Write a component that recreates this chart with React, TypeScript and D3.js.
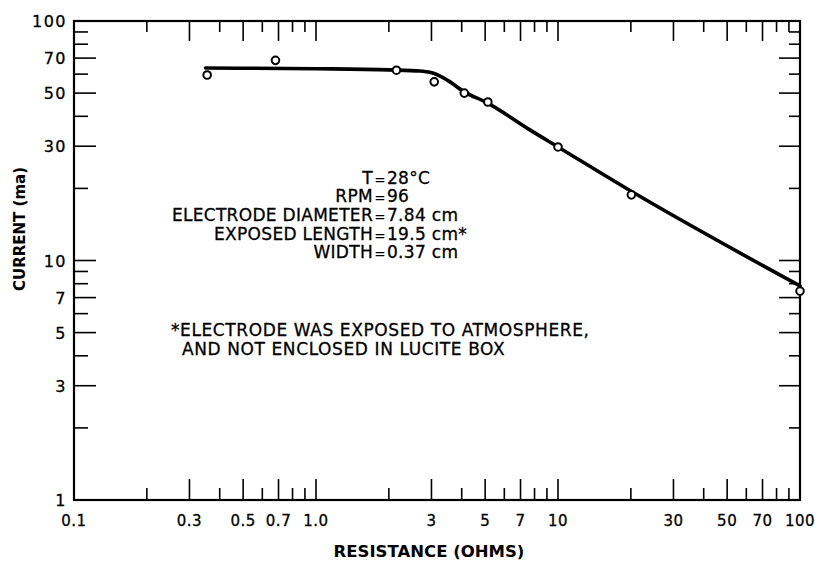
import React, { useEffect, useRef } from 'react';
import * as d3 from 'd3';

// measured points (resistance in ohms, current in ma)
const resistance = [0.355, 0.68, 2.15, 3.08, 4.1, 5.13, 10, 20.1, 100];
const current = [59.5, 68.5, 62.3, 55.7, 50, 45.9, 29.8, 18.8, 7.45];

// hand drawn curve through the points
const fitR = [0.35, 1.0, 2.0, 2.7, 3.1, 3.5, 4.1, 5.1, 7.65, 10, 20, 100];
const fitI = [63.6, 63.2, 62.5, 61.8, 60.2, 56.5, 50.6, 45.5, 35.1, 29.8, 19.5, 7.83];

const xMajor = [0.3, 0.5, 0.7, 1, 3, 5, 7, 10, 30, 50, 70];
const xMinor = [0.2, 0.4, 0.6, 0.8, 0.9, 2, 4, 6, 8, 9, 20, 40, 60, 80, 90];
const xLabels = ['0.1', '0.3', '0.5', '0.7', '1.0', '3', '5', '7', '10', '30', '50', '70', '100'];
const xLabelVals = [0.1, 0.3, 0.5, 0.7, 1, 3, 5, 7, 10, 30, 50, 70, 100];

const yMajor = [3, 5, 7, 10, 30, 50, 70];
const yMinor = [2, 4, 6, 8, 9, 20, 40, 60, 80, 90];
const yLabels = ['1', '3', '5', '7', '10', '30', '50', '70', '100'];
const yLabelVals = [1, 3, 5, 7, 10, 30, 50, 70, 100];

const conditionKeys = ['T', 'RPM', 'ELECTRODE DIAMETER', 'EXPOSED LENGTH', 'WIDTH'];
const conditionVals = ['28°C', '96', '7.84 cm', '19.5 cm*', '0.37 cm'];
const footnote = ['*ELECTRODE WAS EXPOSED TO ATMOSPHERE,', 'AND NOT ENCLOSED IN LUCITE BOX'];

const FONT = '"DejaVu Sans", Verdana, sans-serif';

export default function App() {
  const ref = useRef<SVGSVGElement>(null);

  useEffect(() => {
    const svg = d3.select(ref.current);
    svg.selectAll('*').remove();

    const left = 74, right = 800, top = 21, bottom = 500;
    const x = d3.scaleLog().domain([0.1, 100]).range([left, right]);
    const y = d3.scaleLog().domain([1, 100]).range([bottom, top]);

    svg.append('rect').attr('width', 823).attr('height', 564).attr('fill', '#fff');

    // frame
    svg.append('rect')
      .attr('x', left).attr('y', top)
      .attr('width', right - left).attr('height', bottom - top)
      .attr('fill', 'none').attr('stroke', '#000').attr('stroke-width', 2.2);

    const ticks = svg.append('g').attr('stroke', '#000').attr('stroke-width', 1.6);

    // bottom and top ticks
    const xTick = (vals: number[], lb: number, lt: number) => {
      vals.forEach(v => {
        ticks.append('line').attr('x1', x(v)).attr('x2', x(v)).attr('y1', bottom).attr('y2', bottom - lb);
        ticks.append('line').attr('x1', x(v)).attr('x2', x(v)).attr('y1', top).attr('y2', top + lt);
      });
    };
    xTick(xMajor, 21, 20);
    xTick(xMinor, 12, 11);

    // left and right ticks
    const yTick = (vals: number[], ll: number, lr: number) => {
      vals.forEach(v => {
        ticks.append('line').attr('x1', left).attr('x2', left + ll).attr('y1', y(v)).attr('y2', y(v));
        ticks.append('line').attr('x1', right).attr('x2', right - lr).attr('y1', y(v)).attr('y2', y(v));
      });
    };
    yTick(yMajor, 22, 21);
    yTick(yMinor, 14, 11);

    // tick labels
    svg.append('g').selectAll('text')
      .data(xLabels)
      .enter()
      .append('text')
      .attr('x', (d, i) => x(xLabelVals[i]))
      .attr('y', 526)
      .attr('text-anchor', 'middle')
      .attr('font-family', FONT)
      .attr('font-size', 15)
      .attr('letter-spacing', 0.5)
      .attr('stroke', '#000').attr('stroke-width', 0.3)
      .text(d => d);

    svg.append('g').selectAll('text')
      .data(yLabels)
      .enter()
      .append('text')
      .attr('x', 67)
      .attr('y', (d, i) => y(yLabelVals[i]) + 6)
      .attr('text-anchor', 'end')
      .attr('font-family', FONT)
      .attr('font-size', 16)
      .attr('letter-spacing', 1.5)
      .attr('stroke', '#000').attr('stroke-width', 0.3)
      .text(d => d);

    // axis titles
    svg.append('text')
      .attr('x', 429).attr('y', 557)
      .attr('text-anchor', 'middle')
      .attr('font-family', FONT).attr('font-size', 16.5).attr('font-weight', 'bold')
      .text('RESISTANCE (OHMS)');

    svg.append('text')
      .attr('transform', 'translate(25,229) rotate(-90)')
      .attr('text-anchor', 'middle')
      .attr('font-family', FONT).attr('font-size', 15).attr('font-weight', 'bold')
      .text('CURRENT (ma)');

    // conditions block, aligned on "="
    const cond = svg.append('g').attr('font-family', FONT).attr('font-size', 17)
      .attr('letter-spacing', 0.3)
      .attr('stroke', '#000').attr('stroke-width', 0.3);
    conditionKeys.forEach((k, i) => {
      const yy = 183.5 + i * 18.7;
      cond.append('text').attr('x', 373).attr('y', yy).attr('text-anchor', 'end').text(k);
      cond.append('text').attr('x', 380).attr('y', yy).attr('text-anchor', 'middle')
        .attr('font-size', 13).text('=');
      cond.append('text').attr('x', 387).attr('y', yy).text(conditionVals[i]);
    });

    const foot = svg.append('g').attr('font-family', FONT).attr('font-size', 17)
      .attr('letter-spacing', 0.6)
      .attr('stroke', '#000').attr('stroke-width', 0.3);
    foot.append('text').attr('x', 171).attr('y', 336).text(footnote[0]);
    foot.append('text').attr('x', 182).attr('y', 355).text(footnote[1]);

    // fitted curve
    const line = d3.line<number>()
      .x((d, i) => x(fitR[i]))
      .y(d => y(d))
      .curve(d3.curveMonotoneX);

    svg.append('path')
      .datum(fitI)
      .attr('d', line)
      .attr('fill', 'none')
      .attr('stroke', '#000')
      .attr('stroke-width', 3.6)
      .attr('stroke-linecap', 'round');

    // measured points
    svg.append('g').selectAll('circle')
      .data(current)
      .enter()
      .append('circle')
      .attr('cx', (d, i) => x(resistance[i]))
      .attr('cy', d => y(d))
      .attr('r', 3.8)
      .attr('fill', '#fff')
      .attr('stroke', '#000')
      .attr('stroke-width', 2);
  }, []);

  return (
    <svg
      ref={ref}
      width={823}
      height={564}
      style={{ position: 'absolute', left: 0, top: 0 }}
    />
  );
}
